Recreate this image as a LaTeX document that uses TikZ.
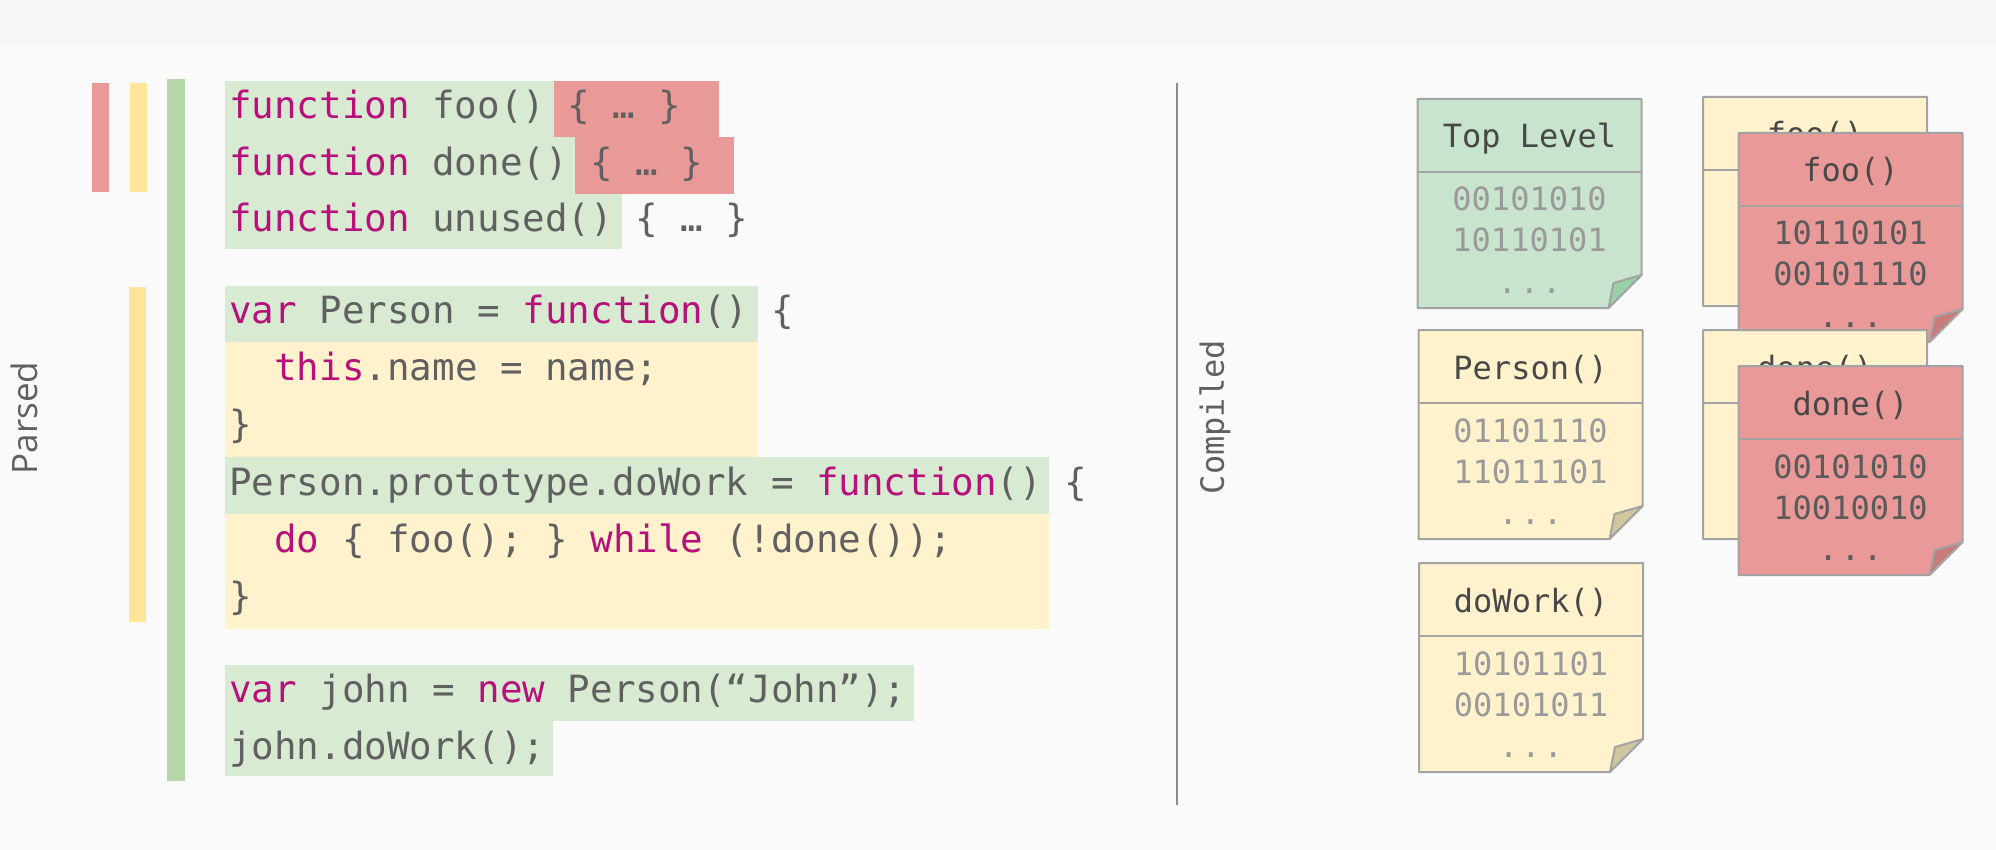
\documentclass[tikz,border=0pt]{standalone}
\usepackage{fontspec}
\newfontfamily\codefont{DejaVu Sans Mono}
\newfontfamily\labelfont{Open Sans}
\definecolor{bg}{HTML}{FAFAFA}
\definecolor{band}{HTML}{F7F7F7}
\definecolor{hlgreen}{HTML}{D9EAD3}
\definecolor{hlred}{HTML}{EA9999}
\definecolor{hlyellow}{HTML}{FFF2CC}
\definecolor{bargreen}{HTML}{B6D7A8}
\definecolor{baryellow}{HTML}{FFE599}
\definecolor{barred}{HTML}{EA9999}
\definecolor{tlgreen}{HTML}{C8E3CE}
\definecolor{tlfold}{HTML}{9BD0A6}
\definecolor{yelfold}{HTML}{D0C69E}
\definecolor{redfold}{HTML}{C87B7B}
\definecolor{boxline}{HTML}{A3A3A3}
\definecolor{kwc}{HTML}{B8107A}
\definecolor{txt}{HTML}{606060}
\definecolor{bingray}{HTML}{9A9A9A}
\definecolor{bindark}{HTML}{5A5A5A}
\definecolor{divline}{HTML}{8A8A8A}
\newcommand\kw[1]{\textcolor{kwc}{#1}}
% outline of a memory page: #1 x, #2 y, #3 fill, #4 fold
\newcommand\pageshape[4]{%
  \path[draw=boxline, line width=2pt, line join=round, fill=#3]
    (#1,#2) -- ++(224,0) -- ++(0,176) -- ++(-33,33) -- ++(-191,0) -- cycle;
  \path[draw=boxline, line width=2pt, line join=round, fill=#4]
    (#1+191,#2+209) -- (#1+196,#2+184) -- (#1+224,#2+176) -- cycle;
  \draw[boxline, line width=2pt] (#1,#2+73) -- (#1+224,#2+73);
}
% #1 name, #2 x, #3 y, #4 fill, #5 fold, #6 title, #7 bin1, #8 bin2, #9 bincolor
\newcommand\membox[9]{%
  \pageshape{#2}{#3}{#4}{#5}
  \node[boxtxt, text=bindark!80!black] (#1-title) at (#2+112,#3+49) {#6};
  \node[boxtxt, text=#9] (#1-b1) at (#2+112,#3+112) {#7};
  \node[boxtxt, text=#9] (#1-b2) at (#2+112,#3+153) {#8};
  \node[boxtxt, text=#9] (#1-dots) at (#2+112,#3+194) {.\kern3pt.\kern3pt.};
}
% box mostly hidden behind another: #1 name, #2 x, #3 y, #4 title
\newcommand\backbox[4]{%
  \pageshape{#2}{#3}{hlyellow}{yelfold}
  \node[boxtxt, text=bindark!80!black] (#1-title) at (#2+112,#3+49) {#4};
}
\begin{document}
\begin{tikzpicture}[x=1pt,y=-1pt,
  code/.style={font=\codefont\fontsize{37.5}{45}\selectfont, text=txt, inner sep=0pt, anchor=base west},
  boxtxt/.style={font=\codefont\fontsize{32}{38}\selectfont, inner sep=0pt, anchor=base},
  side/.style={rotate=90, inner sep=0pt, text=txt}]
\useasboundingbox (0,0) rectangle (1996,850);
\fill[bg] (0,0) rectangle (1996,850);
\fill[band] (0,0) rectangle (1996,46);

% side bars
\fill[barred] (92,83) rectangle (109,192);
\fill[baryellow] (129.5,83) rectangle (147,192);
\fill[bargreen] (167,79) rectangle (185,781);
\fill[baryellow] (128.5,286.5) rectangle (146,622);

% highlights
\fill[hlgreen] (224.5,81) rectangle (553.6,137.5);
\fill[hlred] (553.6,81) rectangle (719,137.5);
\fill[hlgreen] (224.5,137.5) rectangle (575,194);
\fill[hlred] (575,137.5) rectangle (734,194);
\fill[hlgreen] (224.5,194) rectangle (622,249.5);
\fill[hlgreen] (224.5,285.5) rectangle (757.6,342);
\fill[hlyellow] (224.5,342) rectangle (757.6,457);
\fill[hlgreen] (224.5,457) rectangle (1048.8,514);
\fill[hlyellow] (224.5,514) rectangle (1048.8,628.5);
\fill[hlgreen] (224.5,664.6) rectangle (914,721);
\fill[hlgreen] (224.5,721) rectangle (552.8,776);

% code
\node[code] (l1) at (229,119) {\kw{function} foo() \{ … \}};
\node[code] (l2) at (229,175.5) {\kw{function} done() \{ … \}};
\node[code] (l3) at (229,232) {\kw{function} unused() \{ … \}};
\node[code] (l4) at (229,323.5) {\kw{var} Person = \kw{function}() \{};
\node[code] (l5) at (274.2,380) {\kw{this}.name = name;};
\node[code] (l6) at (229,437) {\}};
\node[code] (l7) at (229,495) {Person.prototype.doWork = \kw{function}() \{};
\node[code] (l8) at (274.2,552) {\kw{do} \{ foo(); \} \kw{while} (!done());};
\node[code] (l9) at (229,609) {\}};
\node[code] (l10) at (229,702.5) {\kw{var} john = \kw{new} Person(“John”);};
\node[code] (l11) at (229,759) {john.doWork();};

% side labels
\node[side, font=\labelfont\fontsize{35}{40}\selectfont] (parsed) at (24.5,418) {Parsed};
\node[side, font=\codefont\fontsize{32}{38}\selectfont] (compiled) at (1215,417) {Compiled};
\coordinate (divtop) at (1177,83);
\coordinate (divbot) at (1177,805);
\draw[divline, line width=2pt] (divtop) -- (divbot);

% compiled boxes
\membox{tl}{1417.5}{99}{tlgreen}{tlfold}{Top Level}{00101010}{10110101}{bingray}
\membox{person}{1418.5}{330}{hlyellow}{yelfold}{Person()}{01101110}{11011101}{bingray}
\membox{dowork}{1419}{563}{hlyellow}{yelfold}{doWork()}{10101101}{00101011}{bingray}
\backbox{fooback}{1703}{97}{foo()}
\membox{foo}{1738.5}{133}{hlred}{redfold}{foo()}{10110101}{00101110}{bindark}
\backbox{doneback}{1703}{330}{done()}
\membox{done}{1738.5}{366}{hlred}{redfold}{done()}{00101010}{10010010}{bindark}
\end{tikzpicture}
\end{document}
